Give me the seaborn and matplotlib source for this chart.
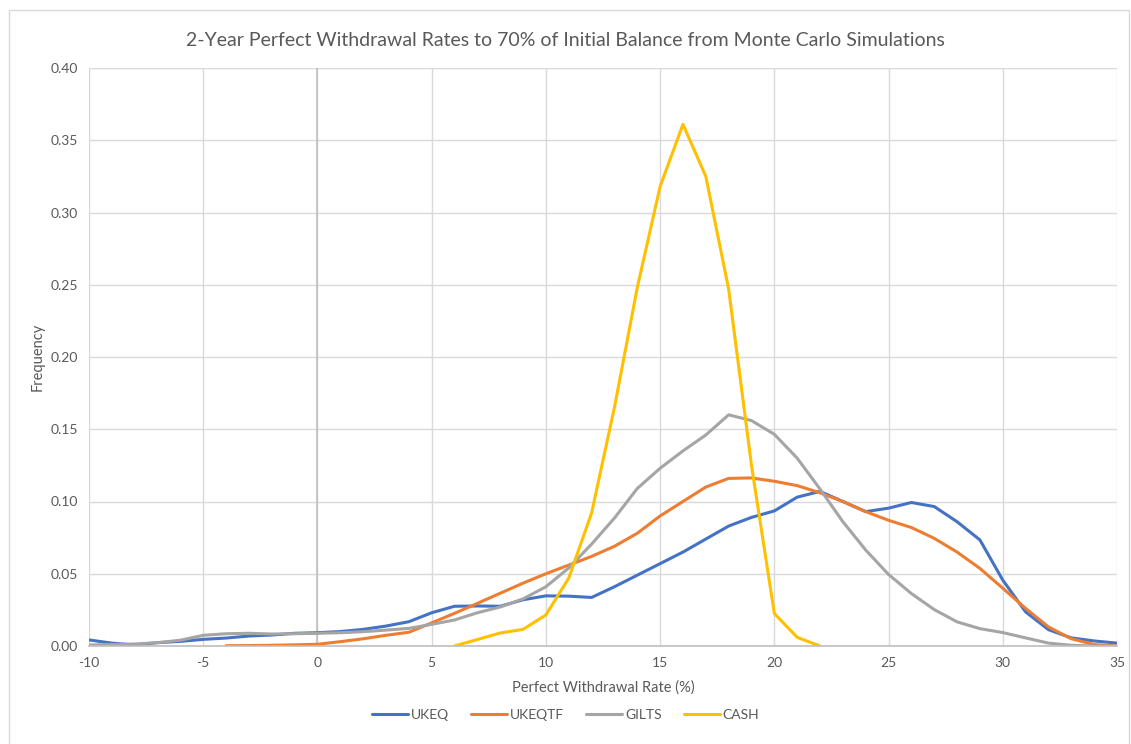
import numpy as np
import pandas as pd
import seaborn as sns
import matplotlib.pyplot as plt
from matplotlib.patches import Rectangle

# valores (frecuencia por tasa de retiro, paso de 1 punto)
x_ukeq = list(range(-10, 36))
ukeq = [0.0042, 0.0020, 0.0007, 0.0023, 0.0032, 0.0046, 0.0055, 0.0069, 0.0076, 0.0088,
        0.0092, 0.0100, 0.0115, 0.0138, 0.0168, 0.0230, 0.0275, 0.0277, 0.0275, 0.0320,
        0.0347, 0.0345, 0.0336, 0.0410, 0.0490, 0.0570, 0.0650, 0.0740, 0.0830, 0.0890,
        0.0935, 0.1030, 0.1070, 0.1000, 0.0930, 0.0954, 0.0993, 0.0965, 0.0860, 0.0734,
        0.0456, 0.0236, 0.0113, 0.0056, 0.0035, 0.0020]

x_ukeqtf = list(range(-4, 36))
ukeqtf = [0.0002, 0.0003, 0.0005, 0.0008, 0.0012, 0.0030, 0.0050, 0.0074, 0.0095, 0.0160,
          0.0226, 0.0295, 0.0365, 0.0435, 0.0500, 0.0560, 0.0620, 0.0690, 0.0780, 0.0900,
          0.1000, 0.1100, 0.1160, 0.1163, 0.1140, 0.1110, 0.1060, 0.1000, 0.0930, 0.0870,
          0.0820, 0.0745, 0.0650, 0.0537, 0.0400, 0.0260, 0.0132, 0.0050, 0.0010, 0.0000]

x_gilts = list(range(-10, 36))
gilts = [0.0007, 0.0010, 0.0014, 0.0023, 0.0040, 0.0074, 0.0085, 0.0088, 0.0083, 0.0085,
         0.0088, 0.0092, 0.0099, 0.0110, 0.0122, 0.0150, 0.0180, 0.0230, 0.0270, 0.0326,
         0.0410, 0.0540, 0.0705, 0.0885, 0.1090, 0.1230, 0.1350, 0.1460, 0.1600, 0.1560,
         0.1465, 0.1300, 0.1086, 0.0860, 0.0664, 0.0495, 0.0363, 0.0252, 0.0167, 0.0120,
         0.0093, 0.0056, 0.0020, 0.0005, 0.0000, 0.0000]

x_cash = list(range(6, 23))
cash = [0.0000, 0.0045, 0.0090, 0.0115, 0.0215, 0.0470, 0.0920, 0.1650, 0.2480, 0.3180,
        0.3610, 0.3250, 0.2470, 0.1250, 0.0225, 0.0060, 0.0000]

series = ['UKEQ', 'UKEQTF', 'GILTS', 'CASH']
colores = ['#4472C4', '#ED7D31', '#A5A5A5', '#FFC000']

x_ticks = list(range(-10, 40, 5))
y_ticks = [0.00, 0.05, 0.10, 0.15, 0.20, 0.25, 0.30, 0.35, 0.40]

# armamos la tabla larga para seaborn
partes = []
for nombre, xs, ys in [('UKEQ', x_ukeq, ukeq), ('UKEQTF', x_ukeqtf, ukeqtf),
                       ('GILTS', x_gilts, gilts), ('CASH', x_cash, cash)]:
    partes.append(pd.DataFrame({'Rate': xs, 'Frequency': ys, 'Serie': nombre}))
df = pd.concat(partes, ignore_index=True)

sns.set_theme(style='white')
plt.rcParams['font.family'] = ['Lato', 'DejaVu Sans']
gris_texto = '#595959'

fig = plt.figure(figsize=(11.31, 7.44), dpi=100)
ax = fig.add_axes([89/1131, 1 - 646/744, (1117 - 89)/1131, (646 - 68)/744])

sns.lineplot(data=df, x='Rate', y='Frequency', hue='Serie', hue_order=series,
             palette=colores, linewidth=2.2, ax=ax, legend=True, sort=True)

ax.set_xlim(-10, 35)
ax.set_ylim(0, 0.40)
ax.set_xticks(x_ticks)
ax.set_xticklabels([str(t) for t in x_ticks])
ax.set_yticks(y_ticks)
ax.set_yticklabels(['%.2f' % t for t in y_ticks])
ax.grid(True, color='#d9d9d9', linewidth=1)
ax.set_axisbelow(True)
for lado in ['top', 'right', 'left']:
    ax.spines[lado].set_visible(False)
ax.spines['bottom'].set_color('#bfbfbf')
ax.spines['bottom'].set_linewidth(1.2)
ax.axvline(0, color='#bfbfbf', linewidth=1.2, zorder=1)
ax.tick_params(length=0, labelsize=10, colors=gris_texto, pad=8)

ax.set_xlabel('Perfect Withdrawal Rate (%)', fontsize=10.5, color=gris_texto, labelpad=8)
ax.set_ylabel('Frequency', fontsize=10.5, color=gris_texto, labelpad=4)
fig.text(0.5, 1 - 40/744, '2-Year Perfect Withdrawal Rates to 70% of Initial Balance from Monte Carlo Simulations',
         ha='center', va='center', fontsize=14, color=gris_texto)

leg = ax.legend(loc='center', bbox_to_anchor=(0.5, 0.039), bbox_transform=fig.transFigure,
                ncol=4, frameon=False, fontsize=10, handlelength=2.6, columnspacing=1.6,
                handletextpad=0.2)
for t in leg.get_texts():
    t.set_color(gris_texto)

# borde del area del grafico (estilo Excel)
fig.patches.append(Rectangle((9/1131, -0.01), 1120/1131, 1 - 10/744 + 0.01, transform=fig.transFigure,
                             fill=False, edgecolor='#d9d9d9', linewidth=1))

fig.savefig('out.png', dpi=100)
